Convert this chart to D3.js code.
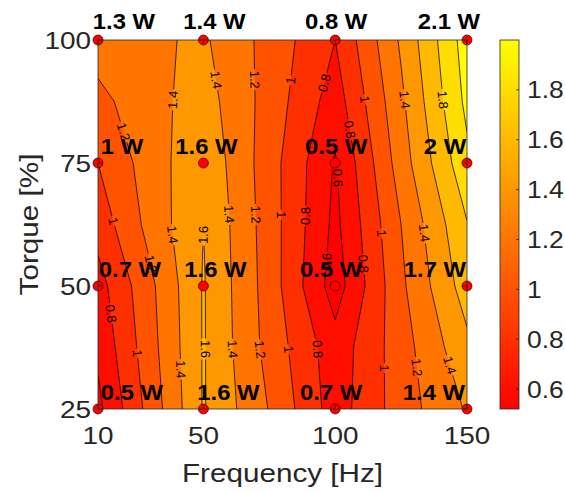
<!DOCTYPE html>
<html>
<head>
<meta charset="utf-8">
<script src="https://cdn.jsdelivr.net/npm/d3@7"></script>
<style>
    body { margin: 0; background: #fff; }
    svg { display: block; font-family: Helvetica, Arial, "Liberation Sans", sans-serif; }
</style>
</head>
<body>
<div id="chart"></div>
<script>
!(function(){
    "use strict"

    // measured operating points
    var freqs = [10, 50, 100, 150]
    var torques = [100, 75, 50, 25]
    var power100 = [1.3, 1.4, 0.8, 2.1]
    var power75 = [1, 1.6, 0.5, 2]
    var power50 = [0.7, 1.6, 0.5, 1.7]
    var power25 = [0.5, 1.6, 0.7, 1.4]

    // surface values (rows from top to bottom)
    var gridFreq = [10, 30, 50, 75, 100, 125, 150]
    var gridTorque = [100, 87.5, 75, 62.5, 50, 37.5, 25]
    var z100 = [1.30, 1.37, 1.43, 1.13, 0.80, 1.43, 2.10]
    var z875 = [1.14, 1.335, 1.49, 1.12, 0.70, 1.36, 2.05]
    var z75 = [1.00, 1.30, 1.56, 1.09, 0.58, 1.30, 1.95]
    var z625 = [0.88, 1.27, 1.60, 1.10, 0.55, 1.20, 1.79]
    var z50 = [0.72, 1.16, 1.615, 1.11, 0.50, 1.16, 1.70]
    var z375 = [0.64, 1.13, 1.615, 1.13, 0.68, 1.11, 1.55]
    var z25 = [0.55, 1.08, 1.615, 1.19, 0.70, 1.10, 1.42]

    var levels = [0.6, 0.8, 1, 1.2, 1.4, 1.6, 1.8, 2]
    var xTicks = [10, 50, 100, 150]
    var yTicks = [25, 50, 75, 100]
    var cTicks = [0.6, 0.8, 1, 1.2, 1.4, 1.6, 1.8]
    var cLimits = [0.52, 2.0]

    var rows = [z100, z875, z75, z625, z50, z375, z25]
    var powers = [power100, power75, power50, power25]

    var width = 565, height = 492
    var margin = {top:40, left:98, bottom:83, right:98}
    var plotW = width - margin.left - margin.right
    var plotH = height - margin.top - margin.bottom
    var axisColor = "#262626"

    var svg = d3.select("#chart").append("svg")
        .attr("width", width).attr("height", height)

    var x = d3.scaleLinear().domain([10, 150]).range([margin.left, margin.left + plotW])
    var y = d3.scaleLinear().domain([25, 100]).range([margin.top + plotH, margin.top])
    var c = d3.scaleLinear().domain(cLimits).range([margin.top + plotH, margin.top])
    var green = d3.scaleLinear().domain(cLimits).range([0, 255]).clamp(true)
    function autumn(v) { return "rgb(255," + Math.round(green(v)) + ",0)" }

    // wide helvetica-like text: font size by height, stretched sideways
    function label(g, tx, ty, rot, str, size, stretch, anchor) {
        return g.append("text")
            .attr("transform", "translate(" + [tx, ty] + ")" + (rot ? "rotate(" + rot + ")" : "") + "scale(" + stretch + ",1)")
            .attr("text-anchor", anchor)
            .attr("font-size", size)
            .attr("fill", axisColor)
            .text(str)
    }

    var defs = svg.append("defs")
    defs.append("clipPath").attr("id", "plotClip")
        .append("rect").attr("x", margin.left).attr("y", margin.top)
        .attr("width", plotW).attr("height", plotH)

    // --- contours on the grid padded by one ring
    var n = gridFreq.length + 2, m = gridTorque.length + 2
    var padded = []
    for (var jj = 0; jj < m; jj++) {
        for (var ii = 0; ii < n; ii++) {
            var r = Math.max(0, Math.min(rows.length - 1, jj - 1))
            var cc = Math.max(0, Math.min(gridFreq.length - 1, ii - 1))
            padded.push(rows[r][cc])
        }
    }
    var idxFreq = d3.scaleLinear().domain(d3.range(-1, gridFreq.length + 1))
        .range([gridFreq[0] - 20].concat(gridFreq, [gridFreq[gridFreq.length - 1] + 25]))
    var idxTorque = d3.scaleLinear().domain(d3.range(-1, gridTorque.length + 1))
        .range([gridTorque[0] + 12.5].concat(gridTorque, [gridTorque[gridTorque.length - 1] - 12.5]))

    var contours = d3.contours().size([n, m]).thresholds(levels)(padded)

    function toPx(p) {
        return [x(idxFreq(p[0] - 1.5)), y(idxTorque(p[1] - 1.5))]
    }
    function inside(p) {
        return p[0] > margin.left - 0.5 && p[0] < margin.left + plotW + 0.5 &&
               p[1] > margin.top - 0.5 && p[1] < margin.top + plotH + 0.5
    }
    function ringPath(pts) {
        return "M" + pts.map(function(p) { return p[0].toFixed(2) + "," + p[1].toFixed(2) }).join("L") + "Z"
    }

    // filled bands (contourf style: each band takes the colour of its lower level)
    var fillLayer = svg.append("g").attr("clip-path", "url(#plotClip)")
    fillLayer.append("rect")
        .attr("x", margin.left).attr("y", margin.top)
        .attr("width", plotW).attr("height", plotH)
        .attr("fill", autumn(cLimits[0]))
    fillLayer.selectAll("path")
        .data(contours).enter().append("path")
        .attr("d", function(d) {
            return d.coordinates.map(function(poly) {
                return poly.map(function(ring) { return ringPath(ring.map(toPx)) }).join("")
            }).join("")
        })
        .attr("fill-rule", "evenodd")
        .attr("fill", function(d) { return autumn(d.value) })

    // contour lines with inline labels
    var mask = defs.append("mask").attr("id", "gapMask")
        .attr("maskUnits", "userSpaceOnUse")
        .attr("x", 0).attr("y", 0).attr("width", width).attr("height", height)
    mask.append("rect").attr("width", width).attr("height", height).attr("fill", "#fff")

    var lineLayer = svg.append("g").attr("clip-path", "url(#plotClip)")
        .append("g").attr("mask", "url(#gapMask)")
    var labelLayer = svg.append("g").attr("clip-path", "url(#plotClip)")

    var placed = []
    var fmt = function(d) { return String(+d.toFixed(1)) }

    contours.forEach(function(contour) {
        var pathStr = ""
        contour.coordinates.forEach(function(poly) {
            poly.forEach(function(ring) {
                var pts = ring.map(toPx)
                pathStr += ringPath(pts)

                // runs of the ring that lie inside the axes
                var start = pts.findIndex(function(p) { return !inside(p) })
                if (start < 0) start = 0
                var seq = pts.slice(start).concat(pts.slice(0, start))
                var runs = [], cur = []
                seq.forEach(function(p) {
                    if (inside(p)) cur.push(p)
                    else { if (cur.length > 1) runs.push(cur); cur = [] }
                })
                if (cur.length > 1) runs.push(cur)

                runs.forEach(function(run) {
                    var cum = [0]
                    for (var k = 1; k < run.length; k++) {
                        cum.push(cum[k - 1] + Math.hypot(run[k][0] - run[k - 1][0], run[k][1] - run[k - 1][1]))
                    }
                    var len = cum[cum.length - 1]
                    if (len < 40) return
                    for (var s = Math.min(len / 2, 60); s < len - 15; s += 135) {
                        var k2 = d3.bisectRight(cum, s)
                        if (k2 >= run.length) k2 = run.length - 1
                        var a = run[k2 - 1], b = run[k2]
                        var t = (s - cum[k2 - 1]) / ((cum[k2] - cum[k2 - 1]) || 1)
                        var px = a[0] + (b[0] - a[0]) * t, py = a[1] + (b[1] - a[1]) * t
                        var ang = Math.atan2(b[1] - a[1], b[0] - a[0]) * 180 / Math.PI
                        if (ang > 90) ang -= 180
                        if (ang <= -90) ang += 180
                        var clash = placed.some(function(q) {
                            return Math.hypot(q[0] - px, q[1] - py) < 24
                        })
                        if (clash) continue
                        placed.push([px, py])
                        var tr = "translate(" + [px, py] + ")rotate(" + ang + ")"
                        var txt = labelLayer.append("text")
                            .attr("transform", tr)
                            .attr("text-anchor", "middle")
                            .attr("dy", "0.35em")
                            .attr("font-size", 13)
                            .attr("fill", "#000")
                            .text(fmt(contour.value))
                        var w = txt.node().getComputedTextLength() + 3
                        mask.append("rect")
                            .attr("transform", tr)
                            .attr("x", -w / 2).attr("y", -5)
                            .attr("width", w).attr("height", 10)
                            .attr("fill", "#000")
                    }
                })
            })
        })
        lineLayer.append("path")
            .attr("d", pathStr)
            .attr("fill", "none")
            .attr("stroke", "#000")
            .attr("stroke-width", 0.75)
    })

    // --- measured points and their labels
    var pts = []
    torques.forEach(function(tq, ri) {
        freqs.forEach(function(f, ci) {
            pts.push({f: f, t: tq, p: powers[ri][ci], ci: ci, ri: ri})
        })
    })

    svg.append("g").selectAll("circle")
        .data(pts).enter().append("circle")
        .attr("cx", function(d) { return x(d.f) })
        .attr("cy", function(d) { return y(d.t) })
        .attr("r", 5)
        .attr("fill", "#ff0000")
        .attr("stroke", "#3a0000")
        .attr("stroke-width", 0.7)

    // horizontal placement of the value labels, by row and column (pixels)
    var nudge = [[26, 11, 1, -18], [24, 3, 1, -22], [32, 12, -4, -32], [34, 25, -4, -33]]
    svg.append("g").selectAll("text")
        .data(pts).enter().append("text")
        .attr("transform", function(d) {
            return "translate(" + [x(d.f) + nudge[d.ri][d.ci], y(d.t) - (d.ri === 0 ? 11 : 9)] + ")scale(1.06,1)"
        })
        .attr("text-anchor", "middle")
        .attr("font-size", 22.5)
        .attr("font-weight", "bold")
        .attr("fill", "#000")
        .text(function(d) { return d.p + " W" })

    // --- axes (drawn on top, ticks inward, box on)
    var axes = svg.append("g").attr("stroke", axisColor).attr("stroke-width", 0.8).attr("fill", "none")
    axes.append("rect").attr("x", margin.left).attr("y", margin.top)
        .attr("width", plotW).attr("height", plotH)
    var tl = 4
    xTicks.forEach(function(d) {
        axes.append("line").attr("x1", x(d)).attr("x2", x(d))
            .attr("y1", margin.top + plotH).attr("y2", margin.top + plotH - tl)
        axes.append("line").attr("x1", x(d)).attr("x2", x(d))
            .attr("y1", margin.top).attr("y2", margin.top + tl)
    })
    yTicks.forEach(function(d) {
        axes.append("line").attr("y1", y(d)).attr("y2", y(d))
            .attr("x1", margin.left).attr("x2", margin.left + tl)
        axes.append("line").attr("y1", y(d)).attr("y2", y(d))
            .attr("x1", margin.left + plotW).attr("x2", margin.left + plotW - tl)
    })

    var tickG = svg.append("g")
    xTicks.forEach(function(d) {
        label(tickG, x(d), margin.top + plotH + 35, 0, d, 24.5, 1.14, "middle")
    })
    yTicks.forEach(function(d) {
        label(tickG, margin.left - 7, y(d) + 8.8, 0, d, 24.5, 1.14, "end")
    })
    label(svg, margin.left + plotW / 2, 482, 0, "Frequency [Hz]", 26.5, 1.12, "middle")
    label(svg, 38, margin.top + plotH / 2, -90, "Torque [%]", 26.5, 1.12, "middle")

    // --- colorbar
    var cbX = 500, cbW = 19
    var grad = defs.append("linearGradient").attr("id", "cbGrad")
        .attr("x1", 0).attr("y1", 1).attr("x2", 0).attr("y2", 0)
    grad.append("stop").attr("offset", 0).attr("stop-color", autumn(cLimits[0]))
    grad.append("stop").attr("offset", 1).attr("stop-color", autumn(cLimits[1]))

    svg.append("rect").attr("x", cbX).attr("y", margin.top)
        .attr("width", cbW).attr("height", plotH)
        .attr("fill", "url(#cbGrad)")
        .attr("stroke", axisColor).attr("stroke-width", 0.8)

    var cb = svg.append("g")
    cTicks.forEach(function(d) {
        cb.append("line").attr("x1", cbX + cbW).attr("x2", cbX + cbW - 3)
            .attr("y1", c(d)).attr("y2", c(d))
            .attr("stroke", axisColor).attr("stroke-width", 0.8)
        label(cb, cbX + cbW + 8, c(d) + 8.5, 0, fmt(d), 24, 1.1, "start")
    })
}());
</script>
</body>
</html>
